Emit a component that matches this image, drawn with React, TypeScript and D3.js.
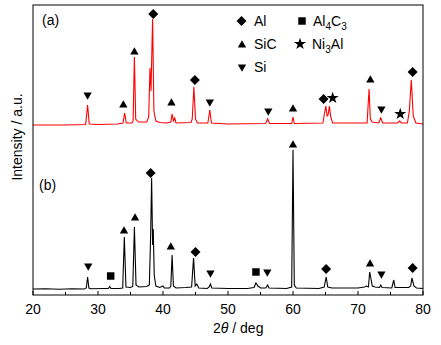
import React from "react";
import * as d3 from "d3";

// ---- data (2θ in degrees, intensity in a.u.) ----
const traceB: [number, number][] = [
  [20, 6], [22, 6.3], [24, 5.8], [26, 6.2], [27.9, 6], [28.2, 7], [28.4, 18], [28.6, 7], [28.9, 6.2],
  [31, 6.5], [31.6, 6.5], [31.8, 8.5], [32.0, 6.5], [33.2, 6.5],
  [33.8, 7], [34.05, 58], [34.3, 8], [35.0, 7.5],
  [35.35, 8.5], [35.6, 68], [35.85, 10], [36.3, 8], [37.5, 8.5],
  [37.9, 10], [38.1, 60], [38.25, 117], [38.4, 50], [38.5, 66], [38.65, 20], [38.9, 9], [39.5, 7.5],
  [40.0, 9], [40.2, 7], [41.0, 7],
  [41.2, 9], [41.4, 40], [41.6, 9], [42, 7], [43.5, 7.5], [44.4, 8],
  [44.7, 37], [44.95, 9], [45.2, 11], [45.5, 7], [46.8, 6.5],
  [47.1, 8], [47.3, 11], [47.5, 7], [50, 6.5], [53, 6.5], [54, 7.5], [54.3, 12], [54.6, 9], [55, 7],
  [55.8, 7], [56.1, 10], [56.3, 7], [59, 6.5],
  [59.8, 8], [60.0, 145], [60.2, 10], [60.5, 7], [64, 6.5],
  [64.8, 8], [65.1, 18], [65.35, 8], [66, 7], [70, 7], [71, 8], [71.3, 9], [71.6, 8], [71.8, 23],
  [72.0, 16], [72.2, 9], [72.6, 8], [73.3, 7.5], [73.5, 10], [73.7, 7.5], [75.2, 7], [75.5, 15],
  [75.7, 7.5], [77.8, 7.5], [78.1, 9], [78.3, 17], [78.6, 9], [79, 7], [80, 6.5],
];

const traceA: [number, number][] = [
  [20, 6], [25, 6], [28.1, 6.5], [28.4, 26], [28.65, 7], [30, 6.5], [33, 7], [33.85, 8], [34.1, 18],
  [34.35, 8], [35.2, 8], [35.4, 10], [35.6, 74], [35.8, 12], [36.2, 9], [37.5, 9], [37.8, 14],
  [38.0, 63], [38.15, 40], [38.4, 112], [38.6, 20], [38.9, 10], [39.5, 8.5], [40.5, 8], [41.2, 9],
  [41.4, 17], [41.6, 10], [41.8, 13], [42.0, 8], [44.3, 8.5], [44.5, 12], [44.75, 44], [45.0, 12],
  [45.3, 8], [46.9, 8], [47.2, 21], [47.45, 8], [50, 7], [55.8, 7.5], [56.1, 12], [56.4, 7.5],
  [59.8, 7.5], [60.0, 14], [60.2, 7.5], [64.6, 8], [64.85, 18], [65.05, 25], [65.25, 15], [65.4, 16],
  [65.6, 25], [65.8, 14], [66.1, 8], [71.4, 8], [71.7, 42], [71.9, 12], [72.2, 9], [73.2, 8],
  [73.5, 13], [73.8, 8], [76.1, 8], [76.4, 10], [76.7, 8], [77.6, 8], [77.9, 20], [78.2, 51],
  [78.5, 15], [78.9, 8], [80, 7],
];

// phase markers: [2θ, intensity, phase]
const markersA: [number, number, string][] = [
  [28.4, 36, "Si"], [33.9, 26, "SiC"], [35.6, 79, "SiC"], [38.5, 117, "Al"], [41.3, 28, "SiC"],
  [44.9, 51, "Al"], [47.2, 29, "Si"], [56.2, 20, "Si"], [60.0, 22, "SiC"], [64.7, 32, "Al"],
  [66.1, 33, "Ni3Al"], [71.9, 51, "SiC"], [73.6, 22, "Si"], [76.5, 17, "Ni3Al"], [78.4, 59, "Al"],
];
const markersB: [number, number, string][] = [
  [28.5, 29, "Si"], [31.95, 19, "Al4C3"], [34.0, 64, "SiC"], [35.7, 77, "SiC"], [38.1, 122, "Al"],
  [41.2, 48, "SiC"], [45.0, 43, "Al"], [47.3, 22, "Si"], [54.3, 23, "Al4C3"], [56.05, 23, "Si"],
  [60.0, 150, "SiC"], [65.1, 26, "Al"], [71.85, 31, "SiC"], [73.6, 21, "Si"], [78.4, 27, "Al"],
];

const xTicks = [20, 30, 40, 50, 60, 70, 80];
const xMinorTicks = [25, 35, 45, 55, 65, 75];

// ---- layout ----
const W = 441, H = 345;
const L = 33, R = 423, T = 5, B = 295;
const offsetA = 164;

const x = d3.scaleLinear().domain([20, 80]).range([L, R]);
const y = d3.scaleLinear().domain([0, 290]).range([B, T]);

const line = d3.line<[number, number]>().x(d => x(d[0])).y(d => y(d[1]));
const lineA = d3.line<[number, number]>().x(d => x(d[0])).y(d => y(d[1] + offsetA));

const symPath = (phase: string): { d: string; rot: number } => {
  switch (phase) {
    case "Al": return { d: d3.symbol(d3.symbolSquare, 50)()!, rot: 45 };
    case "Al4C3": return { d: d3.symbol(d3.symbolSquare, 56)()!, rot: 0 };
    case "SiC": return { d: d3.symbol(d3.symbolTriangle, 30)()!, rot: 0 };
    case "Si": return { d: d3.symbol(d3.symbolTriangle, 30)()!, rot: 180 };
    default: return { d: d3.symbol(d3.symbolStar, 45)()!, rot: 0 };
  }
};

const Marker = ({ cx, cy, phase }: { cx: number; cy: number; phase: string }) => {
  const s = symPath(phase);
  return <path d={s.d} transform={`translate(${cx},${cy}) rotate(${s.rot})`} fill="#000" />;
};

const font = "'Liberation Sans', Arial, sans-serif";

export default function App() {
  return (
    <svg width={W} height={H} style={{ position: "absolute", left: 0, top: 0, background: "#fff" }}
      fontFamily={font}>
      <rect x={0} y={0} width={W} height={H} fill="#fff" />
      <path d={lineA(traceA)!} fill="none" stroke="#ff0000" strokeWidth={1.1} />
      <path d={line(traceB)!} fill="none" stroke="#000" strokeWidth={1.1} />
      {markersA.map((m, i) => <Marker key={"a" + i} cx={x(m[0])} cy={y(m[1] + offsetA)} phase={m[2]} />)}
      {markersB.map((m, i) => <Marker key={"b" + i} cx={x(m[0])} cy={y(m[1])} phase={m[2]} />)}
      <rect x={L} y={T} width={R - L} height={B - T} fill="none" stroke="#000" strokeWidth={1} />
      {xTicks.map(t => (
        <g key={"t" + t}>
          <line x1={x(t)} x2={x(t)} y1={B} y2={B - 4} stroke="#000" />
          <text x={x(t)} y={314} fontSize={14} textAnchor="middle">{t}</text>
        </g>
      ))}
      {xMinorTicks.map(t => (
        <line key={"m" + t} x1={x(t)} x2={x(t)} y1={B} y2={B - 3} stroke="#000" />
      ))}
      <text x={213} y={333} fontSize={14}>2<tspan fontStyle="italic">θ</tspan> / deg</text>
      <text transform="translate(22,137) rotate(-90)" fontSize={14} textAnchor="middle">Intensity / a.u.</text>
      <text x={42} y={25} fontSize={14}>(a)</text>
      <text x={39} y={190} fontSize={14}>(b)</text>
      {/* legend */}
      <Marker cx={241.5} cy={21} phase="Al" />
      <text x={254} y={26} fontSize={14}>Al</text>
      <Marker cx={302} cy={21} phase="Al4C3" />
      <text x={313} y={26} fontSize={14}>Al<tspan fontSize={10} dy={4}>4</tspan><tspan dy={-4}>C</tspan><tspan fontSize={10} dy={4}>3</tspan></text>
      <Marker cx={242} cy={45} phase="SiC" />
      <text x={254} y={49} fontSize={14}>SiC</text>
      <Marker cx={300} cy={44} phase="Ni3Al" />
      <text x={312} y={49} fontSize={14}>Ni<tspan fontSize={10} dy={4}>3</tspan><tspan dy={-4}>Al</tspan></text>
      <Marker cx={242} cy={67} phase="Si" />
      <text x={254} y={72} fontSize={14}>Si</text>
    </svg>
  );
}
